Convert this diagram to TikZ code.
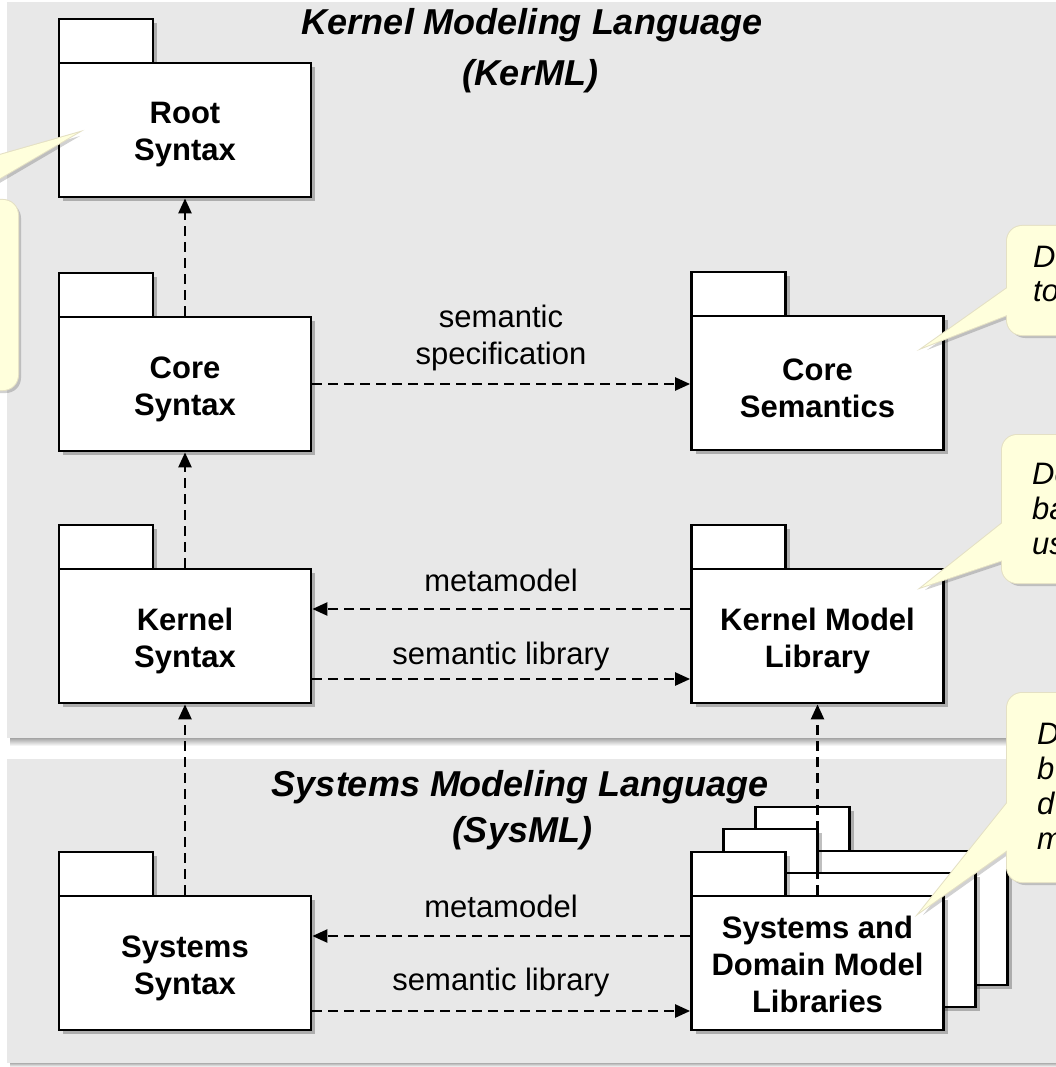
\documentclass[tikz,border=0pt]{standalone}
\usepackage{fontspec}
\setmainfont{Liberation Sans}
\usetikzlibrary{arrows.meta,shadows,calc}
\definecolor{panelgray}{HTML}{E8E8E8}
\definecolor{notefill}{HTML}{FFFFDC}
\definecolor{noteline}{HTML}{E4E0C4}
% #1 name, #2 x, #3 y, #4 text, #5 text shift
\newcommand{\mypkg}[5]{%
  \draw[pkgtab] ({#2-126},{#3-67}) rectangle ++(94,-44);
  \node[pkg,label={[pkgtext,yshift=#5]center:{#4}}] (#1) at (#2,#3) {};}
\begin{document}
\begin{tikzpicture}[x=1pt,y=-1pt,
  boxshadow/.style={drop shadow={shadow xshift=4pt,shadow yshift=-4pt,opacity=0.25,fill=black}},
  pkg/.style={draw=black,fill=white,line width=2.8pt,minimum width=252pt,minimum height=134pt,
    inner sep=0pt,boxshadow},
  pkgtext/.style={align=center,inner sep=0pt,font=\fontsize{31}{37}\selectfont\bfseries},
  pkgtab/.style={draw=black,fill=white,line width=2.8pt,boxshadow},
  dep/.style={line width=2.4pt,dash pattern=on 10pt off 6pt,-{Triangle[length=15pt,width=13pt]}},
  lbl/.style={font=\fontsize{31}{37}\selectfont,align=center,inner sep=0pt},
  ttl/.style={font=\fontsize{36}{40}\selectfont\bfseries\itshape,inner sep=0pt,anchor=base},
  notetxt/.style={font=\fontsize{31}{37}\selectfont\itshape,inner sep=0pt,anchor=base west},
  noteshadow/.style={fill=black,opacity=0.18},
  noteborder/.style={draw=noteline,line width=2pt},
  notebody/.style={fill=notefill},
]
\useasboundingbox (0,0) rectangle (1056,1067);
\fill[white] (0,0) rectangle (1056,1067);
% panels
\shade[top color=black!40,bottom color=white] (10,737) rectangle (1070,746);
\fill[panelgray] (7,2) rectangle (1070,738);
\shade[top color=black!40,bottom color=white] (10,1062) rectangle (1070,1067);
\fill[panelgray] (7,759) rectangle (1070,1063);
% titles
\node[ttl] (t1) at (532,35) {Kernel Modeling Language};
\node[ttl] (t2) at (530,86) {(KerML)};
\node[ttl] (t3) at (520,796) {Systems Modeling Language};
\node[ttl] (t4) at (522,842) {(SysML)};
% packages
\mypkg{rs}{185}{130}{Root\\Syntax}{-5pt}
\mypkg{cs}{185}{384}{Core\\Syntax}{-5pt}
\mypkg{ks}{185}{636}{Kernel\\Syntax}{-5pt}
\mypkg{ss}{185}{963}{Systems\\Syntax}{-5pt}
\mypkg{csem}{817.5}{383}{Core\\Semantics}{-5pt}
\mypkg{kml}{817.5}{636}{Kernel Model\\Library}{-5pt}
\mypkg{sd3}{881.5}{918}{}{0pt}
\mypkg{sd2}{849.5}{940}{}{0pt}
\mypkg{sd}{817.5}{963}{Systems and\\Domain Model\\Libraries}{-1pt}
% connectors
\draw[dep] (cs.north) -- (rs.south);
\draw[dep] (ks.north) -- (cs.south);
\draw[dep] (ss.north) -- (ks.south);
\draw[dep] (sd.north) -- (kml.south);
\draw[dep] (cs.east) -- (csem.west |- cs.east);
\draw[dep] ([yshift=27pt]kml.west) -- ([yshift=27pt]ks.east);
\draw[dep] ([yshift=-43pt]ks.east) -- ([yshift=-43pt]kml.west);
\draw[dep] ([yshift=27pt]sd.west) -- ([yshift=27pt]ss.east);
\draw[dep] ([yshift=-48pt]ss.east) -- ([yshift=-48pt]sd.west);
% labels
\node[lbl,anchor=base] (l1) at (501,327) {semantic};
\node[lbl,anchor=base] (l2) at (501,364) {specification};
\node[lbl,anchor=base] (l3) at (501,591) {metamodel};
\node[lbl,anchor=base] (l4) at (501,664) {semantic library};
\node[lbl,anchor=base] (l5) at (501,917) {metamodel};
\node[lbl,anchor=base] (l6) at (501,990) {semantic library};
% callouts
\begin{scope}[shift={(3,3)}]
  \path[noteshadow,rounded corners=15pt] (-100,200) rectangle (18,390);
  \path[noteshadow] (-60,172) -- (77,133) -- (-46,205) -- cycle;
  \path[noteshadow,rounded corners=15pt] (1007,226) rectangle (1200,335);
  \path[noteshadow] (1020,279) -- (924,347) -- (1020,310) -- cycle;
  \path[noteshadow,rounded corners=15pt] (1002,435) rectangle (1200,583);
  \path[noteshadow] (1015,513) -- (922,587) -- (1015,556) -- cycle;
  \path[noteshadow,rounded corners=15pt] (1007,693) rectangle (1200,882);
  \path[noteshadow] (1020,787) -- (920,912) -- (1020,841) -- cycle;
\end{scope}
\path[noteborder,rounded corners=15pt] (-100,200) rectangle (18,390);
\path[noteborder] (-60,172) -- (77,133) -- (-46,205) -- cycle;
\path[noteborder,rounded corners=15pt] (1007,226) rectangle (1200,335);
\path[noteborder] (1020,279) -- (924,347) -- (1020,310) -- cycle;
\path[noteborder,rounded corners=15pt] (1002,435) rectangle (1200,583);
\path[noteborder] (1015,513) -- (922,587) -- (1015,556) -- cycle;
\path[noteborder,rounded corners=15pt] (1007,693) rectangle (1200,882);
\path[noteborder] (1020,787) -- (920,912) -- (1020,841) -- cycle;
\path[notebody,rounded corners=15pt] (-100,200) rectangle (18,390);
\path[notebody] (-60,172) -- (77,133) -- (-46,205) -- cycle;
\path[notebody,rounded corners=15pt] (1007,226) rectangle (1200,335);
\path[notebody] (1020,279) -- (924,347) -- (1020,310) -- cycle;
\path[notebody,rounded corners=15pt] (1002,435) rectangle (1200,583);
\path[notebody] (1015,513) -- (922,587) -- (1015,556) -- cycle;
\path[notebody,rounded corners=15pt] (1007,693) rectangle (1200,882);
\path[notebody] (1020,787) -- (920,912) -- (1020,841) -- cycle;
\node[notetxt] (n1a) at (1033,267) {D};
\node[notetxt] (n1b) at (1033,301) {to};
\node[notetxt] (n2a) at (1032,484) {De};
\node[notetxt] (n2b) at (1032,519) {ba};
\node[notetxt] (n2c) at (1032,554) {us};
\node[notetxt] (n3a) at (1037,744) {D};
\node[notetxt] (n3b) at (1037,779) {b};
\node[notetxt] (n3c) at (1037,814) {d};
\node[notetxt] (n3d) at (1037,849) {m};
\end{tikzpicture}
\end{document}
